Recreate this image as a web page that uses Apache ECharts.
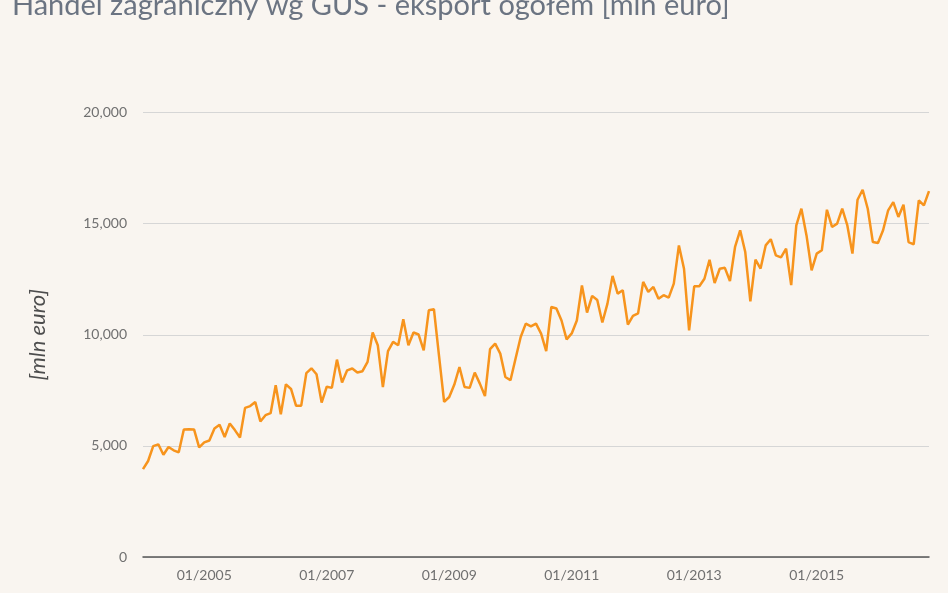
<!DOCTYPE html>
<html>
<head>
<meta charset="utf-8">
<script src="https://cdn.jsdelivr.net/npm/echarts@6/dist/echarts.min.js"></script>
<style>
html,body{margin:0;padding:0;background:#f9f5f0;}
#chart{width:948px;height:593px;}
</style>
</head>
<body>
<div id="chart"></div>
<script>
const titleText = "Handel zagraniczny wg GUS - eksport ogółem [mln euro]";
const yAxisTitle = "[mln euro]";
const startYear = 2004;
const exportValues = [
  3950, 4320, 4990, 5070, 4600, 4950, 4800, 4710, 5740, 5750, 5740, 4930,
  5160, 5240, 5780, 5950, 5400, 6010, 5710, 5380, 6710, 6790, 6970, 6100,
  6380, 6470, 7730, 6420, 7770, 7560, 6800, 6810, 8270, 8490, 8220, 6950,
  7660, 7610, 8880, 7850, 8400, 8480, 8300, 8360, 8780, 10100, 9530, 7650,
  9260, 9680, 9530, 10700, 9530, 10100, 10010, 9300, 11100, 11150, 9050, 6980,
  7200, 7760, 8550, 7650, 7610, 8300, 7800, 7240, 9350, 9600, 9150, 8100,
  7950, 8930, 9900, 10500, 10380, 10500, 10050, 9260, 11250, 11180, 10640, 9790,
  10060, 10640, 12220, 11000, 11750, 11560, 10550, 11400, 12650, 11850, 12000, 10460,
  10850, 10960, 12380, 11930, 12150, 11620, 11780, 11670, 12300, 14020, 12970, 10200,
  12180, 12180, 12520, 13370, 12330, 12970, 13010, 12420, 13950, 14700, 13720, 11500,
  13380, 12980, 14020, 14300, 13570, 13480, 13870, 12230, 14920, 15670, 14470, 12900,
  13650, 13800, 15625, 14850, 15000, 15670, 14920, 13650, 16075, 16525, 15670, 14170,
  14130, 14700, 15600, 15970, 15300, 15850, 14170, 14070, 16050, 15820, 16460
];
const months = exportValues.map((v, i) => {
  const m = (i % 12) + 1;
  const y = startYear + Math.floor(i / 12);
  return (m < 10 ? '0' + m : '' + m) + '/' + y;
});
const yTicks = [0, 5000, 10000, 15000, 20000];

const chart = echarts.init(document.getElementById('chart'), null, {renderer: 'canvas'});
chart.setOption({
  backgroundColor: '#f9f5f0',
  animation: false,
  title: {
    text: titleText,
    left: 7,
    top: -14,
    textStyle: {fontFamily: 'Lato', fontSize: 29, fontWeight: 'normal', color: '#6b7482'}
  },
  grid: {left: 143, right: 19, top: 112.5, bottom: 36},
  xAxis: {
    type: 'category',
    data: months,
    boundaryGap: false,
    axisLine: {lineStyle: {color: '#555', width: 1.5}},
    axisTick: {show: false},
    splitLine: {show: false},
    axisLabel: {
      fontFamily: 'Lato', fontSize: 14, color: '#707070', margin: 11,
      interval: function (index, value) {
        const parts = value.split('/');
        return parts[0] === '01' && (parseInt(parts[1], 10) % 2 === 1);
      }
    }
  },
  yAxis: {
    type: 'value',
    min: yTicks[0],
    max: yTicks[yTicks.length - 1],
    interval: 5000,
    name: yAxisTitle,
    nameLocation: 'middle',
    nameGap: 94,
    nameTextStyle: {fontFamily: 'Lato', fontSize: 22, fontStyle: 'italic', color: '#4d4d4d'},
    axisLine: {show: false},
    axisTick: {show: false},
    splitLine: {lineStyle: {color: '#d6d6d6', width: 1}},
    axisLabel: {
      fontFamily: 'Lato', fontSize: 14, color: '#707070', margin: 16,
      formatter: function (v) { return v.toLocaleString('en-US'); }
    }
  },
  series: [{
    type: 'line',
    data: exportValues,
    symbol: 'none',
    lineStyle: {color: '#f7941d', width: 2.5},
    itemStyle: {color: '#f7941d'}
  }]
});
</script>
</body>
</html>
